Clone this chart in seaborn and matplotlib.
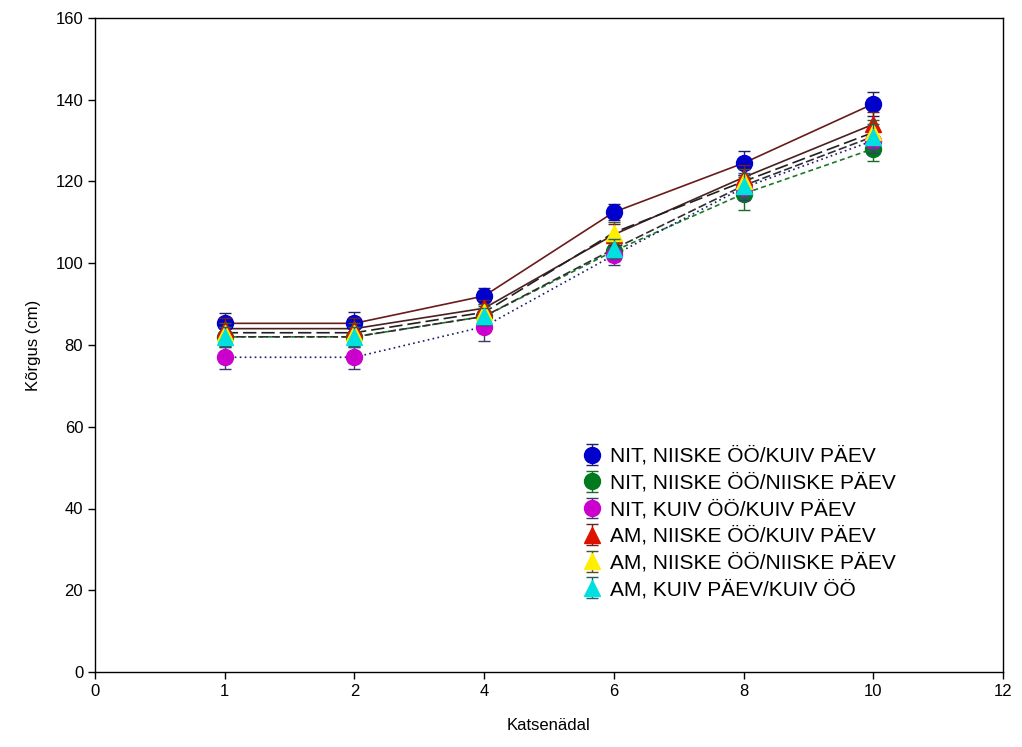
import matplotlib
matplotlib.use("Agg")
import matplotlib.pyplot as plt
import seaborn as sns
import pandas as pd
import numpy as np

weeks = ["1", "2", "4", "6", "8", "10"]
tick_labels = ["0", "1", "2", "4", "6", "8", "10", "12"]
series_names = [
    "NIT, NIISKE ÖÖ/KUIV PÄEV",
    "NIT, NIISKE ÖÖ/NIISKE PÄEV",
    "NIT, KUIV ÖÖ/KUIV PÄEV",
    "AM, NIISKE ÖÖ/KUIV PÄEV",
    "AM, NIISKE ÖÖ/NIISKE PÄEV",
    "AM, KUIV PÄEV/KUIV ÖÖ",
]
nit_niiske_kuiv = [85.3, 85.3, 92.0, 112.5, 124.5, 139.0]
nit_niiske_niiske = [82.0, 82.0, 87.0, 103.0, 117.0, 128.0]
nit_kuiv_kuiv = [77.0, 77.0, 84.5, 102.0, 118.5, 130.0]
am_niiske_kuiv = [84.0, 84.0, 89.0, 107.0, 121.0, 134.0]
am_niiske_niiske = [83.0, 83.0, 88.0, 107.5, 120.0, 132.0]
am_kuiv_kuiv = [82.0, 82.0, 87.0, 103.5, 119.0, 131.0]
errors = [
    [2.5, 2.8, 2.0, 2.0, 3.0, 3.0],
    [2.5, 2.5, 2.5, 2.5, 4.0, 3.0],
    [2.8, 2.8, 3.5, 2.5, 3.0, 3.0],
    [2.5, 2.5, 2.0, 2.5, 3.0, 3.0],
    [2.5, 2.5, 2.0, 2.5, 3.0, 3.0],
    [2.5, 2.5, 2.0, 2.5, 3.0, 3.0],
]
values = [nit_niiske_kuiv, nit_niiske_niiske, nit_kuiv_kuiv,
          am_niiske_kuiv, am_niiske_niiske, am_kuiv_kuiv]

marker_colors = ["#0000cc", "#007a1e", "#cc00cc", "#dd1100", "#ffee00", "#00e0e0"]
line_colors = ["#6b1a1a", "#1a7a2a", "#1a1a6b", "#4a2020", "#202020", "#303030"]
line_styles = ["-", (0, (3, 2)), (0, (1, 2)), "-", (0, (8, 3)), (0, (5, 2))]
markers = ["o", "o", "o", "^", "^", "^"]
bar_colors = ["#202060", "#1a6a2a", "#3a3a6b", "#6b2020", "#505020", "#206060"]

sns.set_theme(style="white")
plt.rcParams["font.family"] = ["Liberation Sans", "DejaVu Sans"]

fig = plt.figure(figsize=(10.22, 7.47), dpi=100)
ax = fig.add_axes([95 / 1022, 1 - 672 / 747, (1003 - 95) / 1022, (672 - 18) / 747])

pos = np.arange(1, len(weeks) + 1)
rows = []
for name, vals in zip(series_names, values):
    for p, v in zip(pos, vals):
        rows.append({"series": name, "pos": p, "value": v})
df = pd.DataFrame(rows)

for i, name in enumerate(series_names):
    sub = df[df["series"] == name]
    sns.lineplot(data=sub, x="pos", y="value", ax=ax, color=line_colors[i],
                 linewidth=1.2, linestyle=line_styles[i], legend=False, zorder=2)

handles = []
order = [2, 1, 5, 4, 3, 0]
for i in order:
    h = ax.errorbar(pos, values[i], yerr=errors[i], fmt=markers[i], color=marker_colors[i],
                    ms=11.5, mec=marker_colors[i], ecolor=bar_colors[i], elinewidth=1.0,
                    capsize=4, capthick=1.0, linestyle="none", zorder=3 + i)
    handles.append((i, h))
handles.sort(key=lambda t: t[0])
ax.legend([h for _, h in handles], series_names, loc="upper left",
          bbox_to_anchor=(0.538, 0.345), frameon=False, fontsize=15,
          handlelength=0.8, handletextpad=0.45, labelspacing=0.34, borderaxespad=0,
          borderpad=0, labelcolor="black")

ax.set_xlim(0, 7)
ax.set_ylim(0, 160)
ax.set_xticks(np.arange(0, 8))
ax.set_xticklabels(tick_labels)
ax.set_yticks(np.arange(0, 161, 20))
ax.set_xlabel("Katsenädal", fontsize=12, labelpad=14, color="black")
ax.set_ylabel("Kõrgus (cm)", fontsize=12, labelpad=10, color="black")
ax.tick_params(axis="both", which="both", direction="out", length=5, width=1, labelsize=12,
               bottom=True, left=True, color="black", labelcolor="black")
for s in ax.spines.values():
    s.set_color("black")
    s.set_linewidth(1.0)

fig.savefig("out.png", dpi=100, facecolor="white")
